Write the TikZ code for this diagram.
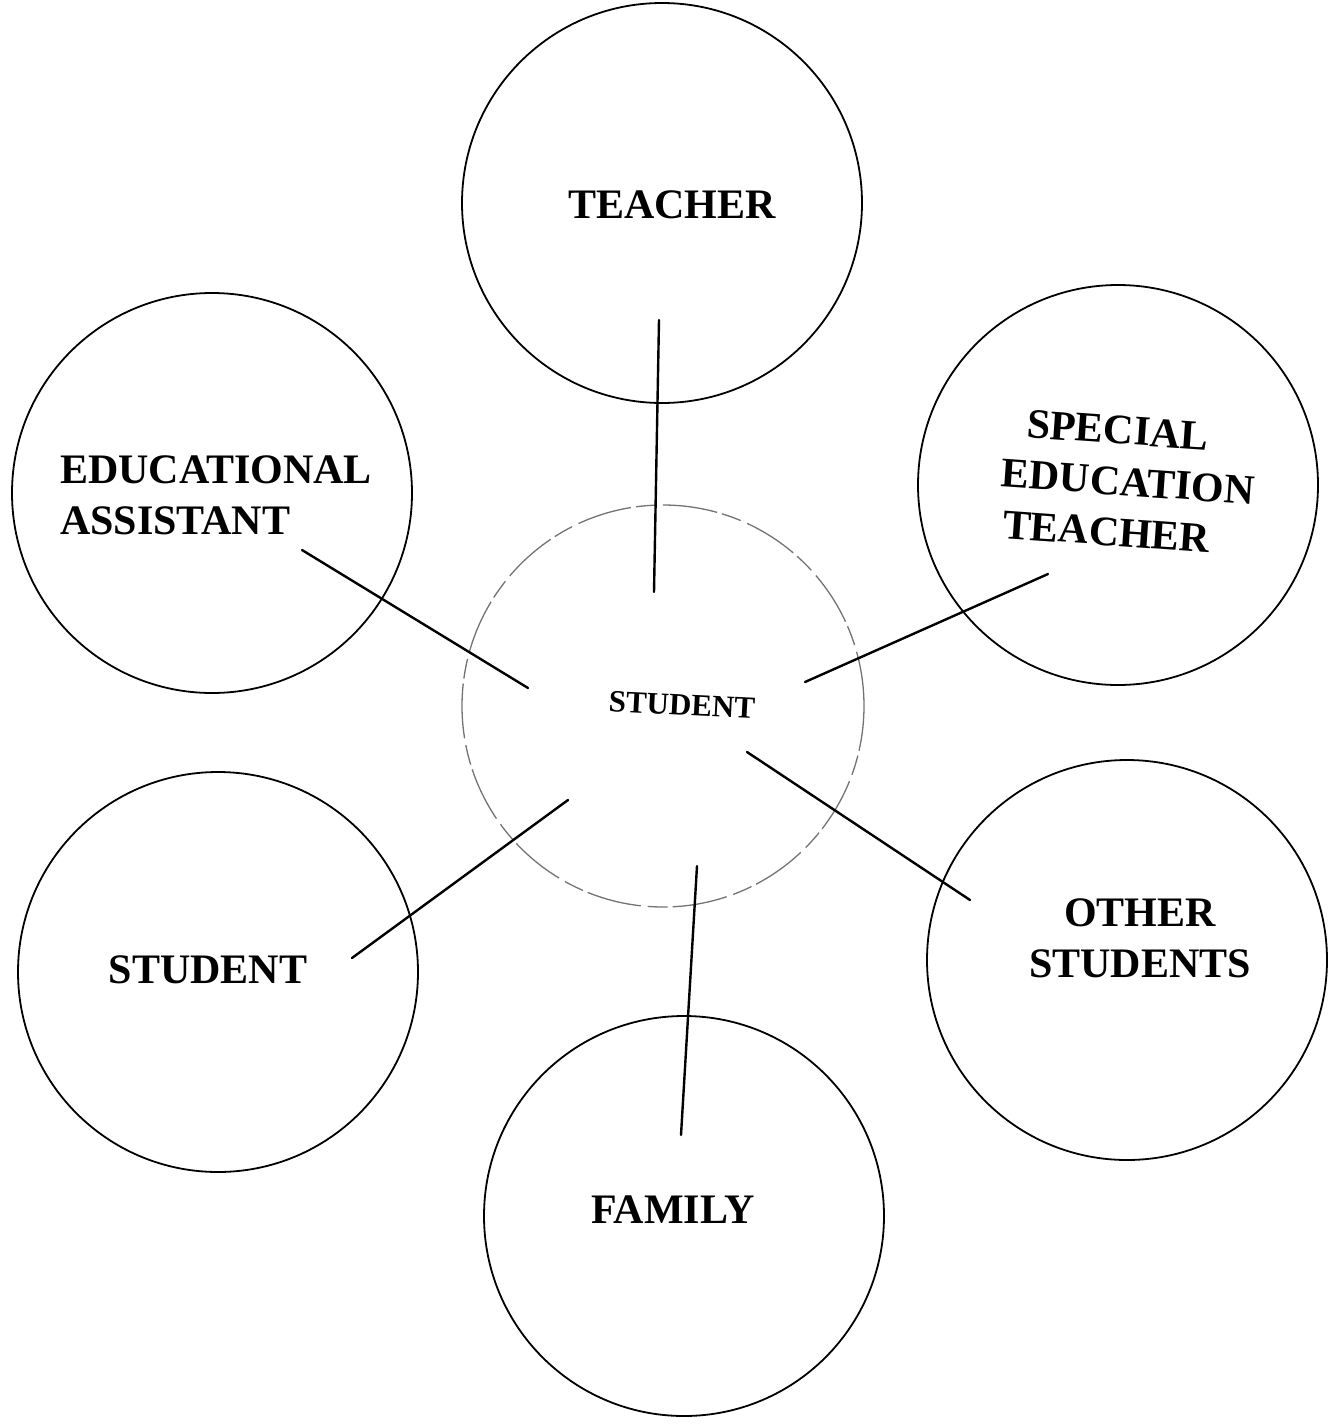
\documentclass[tikz,border=0pt]{standalone}
\usepackage{fontspec}
\setmainfont{Liberation Serif}
\begin{document}
\begin{tikzpicture}[x=1pt,y=-1pt,
  ring/.style={circle,draw=black,line width=1.8pt,minimum size=400pt,inner sep=0pt},
  hubring/.style={circle,draw=black!55,line width=1.3pt,minimum size=402pt,inner sep=0pt,dash pattern=on 55pt off 7pt on 20pt off 5pt},
  lbl/.style={font=\fontsize{42}{51}\selectfont\bfseries,inner sep=0pt},
  spoke/.style={line width=2.4pt,line cap=round}]
\useasboundingbox (0,0) rectangle (1332,1424);
% circles
\node[hubring] (hub) at (663,706) {};
\node[ring] (teacher) at (662,203) {};
\node[ring] (sped) at (1118,485) {};
\node[ring] (ea) at (212,493) {};
\node[ring] (stud) at (218,972) {};
\node[ring] (other) at (1127,960) {};
\node[ring] (family) at (684,1216) {};
% labels
\node[lbl] (tT) at (672,205) {TEACHER};
\node[lbl,align=left] (tEA) at (216,495) {EDUCATIONAL\\ASSISTANT};
\node[lbl,align=left,rotate=-4] (tSP) at (1128,482) {\hspace*{22pt}SPECIAL\\EDUCATION\\\hspace*{5pt}TEACHER};
\node[font=\fontsize{31}{36}\selectfont\bfseries,inner sep=0pt,rotate=-3] (tHub) at (682,705) {STUDENT};
\node[lbl] (tS) at (208,970) {STUDENT};
\node[lbl,align=center] (tO) at (1140,938) {OTHER\\STUDENTS};
\node[lbl] (tF) at (673,1210) {FAMILY};
% spoke end points
\coordinate (a1) at (659,320); \coordinate (a2) at (654,592);
\coordinate (b1) at (1048,574); \coordinate (b2) at (805,682);
\coordinate (c1) at (302,550); \coordinate (c2) at (528,688);
\coordinate (d1) at (568,800); \coordinate (d2) at (352,958);
\coordinate (e1) at (697,866); \coordinate (e2) at (681,1135);
\coordinate (f1) at (747,752); \coordinate (f2) at (970,900);
\draw[spoke] (a1) -- (a2);
\draw[spoke] (b1) -- (b2);
\draw[spoke] (c1) -- (c2);
\draw[spoke] (d1) -- (d2);
\draw[spoke] (e1) -- (e2);
\draw[spoke] (f1) -- (f2);
\end{tikzpicture}
\end{document}
